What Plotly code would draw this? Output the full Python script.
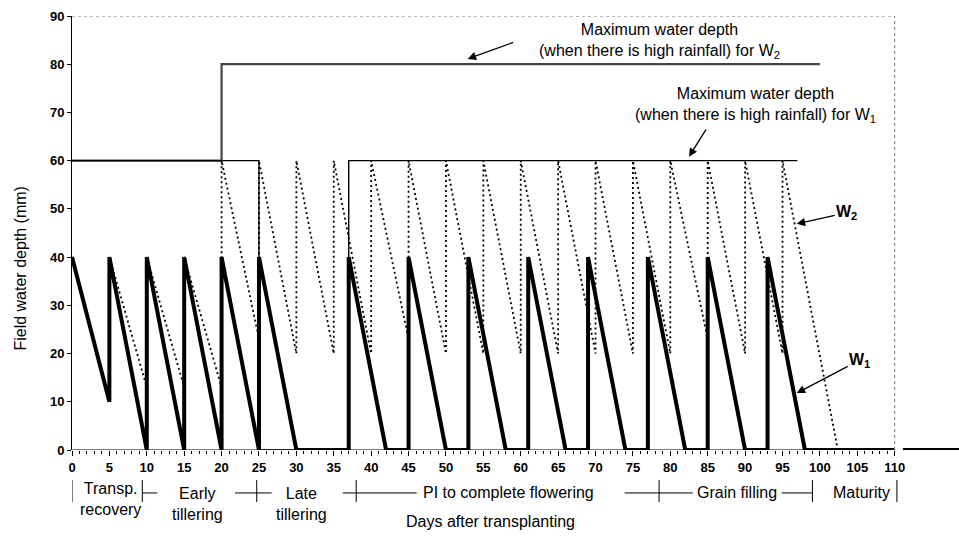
import plotly.graph_objects as go

# ---------------- data ----------------
w1_days = [0, 5, 5, 10, 10, 15, 15, 20, 20, 25, 25, 30, 37, 37, 42, 45, 45, 50, 53, 53, 58,
           61, 61, 66, 69, 69, 74, 77, 77, 82, 85, 85, 90, 93, 93, 98, 110]
w1_depth = [40, 10, 40, 0, 40, 0, 40, 0, 40, 0, 40, 0, 0, 40, 0, 0, 40, 0, 0, 40, 0,
            0, 40, 0, 0, 40, 0, 0, 40, 0, 0, 40, 0, 0, 40, 0, 0]
w1_tail_days = [111.1, 118.6]
w1_tail_depth = [0, 0]

w2_days = [0, 5, 5, 10, 10, 15, 15, 20, 20, 25, 25, 30, 30, 35, 35, 40, 40, 45, 45, 50, 50,
           55, 55, 60, 60, 65, 65, 70, 70, 75, 75, 80, 80, 85, 85, 90, 90, 95, 95, 102.4, 110]
w2_depth = [40, 10, 40, 13, 40, 13, 40, 13, 60, 23, 60, 20, 60, 20, 60, 20, 60, 23, 60, 20, 60,
            20, 60, 20, 60, 20, 60, 20, 60, 20, 60, 20, 60, 23, 60, 20, 60, 20, 60, 0, 0]

w1max_days = [0, 25, 25, 37, 37, 97]
w1max_depth = [60, 60, 0, 0, 60, 60]
w2max_days = [0, 20, 20, 100]
w2max_depth = [60, 60, 80, 80]

x_ticks = list(range(0, 111, 5))
x_minor = list(range(0, 111))
y_ticks = list(range(0, 91, 10))

stage_names = ["Transp.<br>recovery", "Early<br>tillering", "Late<br>tillering",
               "PI to complete flowering", "Grain filling", "Maturity"]
stage_centers = [5.1, 16.8, 30.7, 58.4, 88.9, 105.5]
stage_bounds = [0, 9.4, 24.7, 38.0, 78.5, 99.0, 110.3]

FONT = "Liberation Sans, Arial, sans-serif"
TS = 16

fig = go.Figure()
fig.add_trace(go.Scatter(x=w2max_days, y=w2max_depth, mode="lines",
                         line=dict(color="#444444", width=2.2), hoverinfo="skip"))
fig.add_trace(go.Scatter(x=w1max_days, y=w1max_depth, mode="lines",
                         line=dict(color="black", width=1.4), hoverinfo="skip"))
fig.add_trace(go.Scatter(x=w2_days, y=w2_depth, mode="lines",
                         line=dict(color="black", width=1.8, dash="2px,3px"), hoverinfo="skip"))
fig.add_trace(go.Scatter(x=w1_days, y=w1_depth, mode="lines",
                         line=dict(color="black", width=4), hoverinfo="skip"))
fig.add_trace(go.Scatter(x=w1_tail_days, y=w1_tail_depth, mode="lines",
                         line=dict(color="black", width=4), hoverinfo="skip", cliponaxis=False))

shapes = [
    dict(type="line", xref="x", yref="y", x0=0, x1=110, y0=0, y1=0,
         line=dict(color="black", width=1)),
    dict(type="line", xref="x", yref="y", x0=0, x1=110, y0=90, y1=90,
         line=dict(color="#777777", width=1, dash="dot")),
    dict(type="line", xref="x", yref="y", x0=110, x1=110, y0=0, y1=90,
         line=dict(color="#777777", width=1, dash="dot")),
]

yl_top, yl_bot, yl_mid = -0.069, -0.12, -0.099
for b in stage_bounds:
    shapes.append(dict(type="line", xref="x", yref="paper", x0=b, x1=b, y0=yl_top, y1=yl_bot,
                       line=dict(color="black", width=1)))
for (a, c) in [(9.4, 11.4), (21.8, 26.7), (36.2, 46.1), (73.9, 83.0), (94.9, 99.0)]:
    shapes.append(dict(type="line", xref="x", yref="paper", x0=a, x1=c, y0=yl_mid, y1=yl_mid,
                       line=dict(color="black", width=1)))

annotations = []
stage_y = [-0.112, -0.124, -0.124, -0.099, -0.099, -0.099]
for name, cx, sy in zip(stage_names, stage_centers, stage_y):
    annotations.append(dict(text=name, x=cx, y=sy, xref="x", yref="paper", showarrow=False,
                            xanchor="center", yanchor="middle",
                            font=dict(family=FONT, size=TS, color="black")))

annotations += [
    dict(text="Days after transplanting", x=56, y=-0.189, xref="x", yref="paper",
         showarrow=False, font=dict(family=FONT, size=TS, color="black")),
    dict(text="Field water depth (mm)", x=-0.07, y=0.419, xref="paper", yref="paper",
         textangle=-90, showarrow=False, font=dict(family=FONT, size=TS, color="black")),
    dict(text="Maximum water depth<br>(when there is high rainfall) for W<sub>2</sub>",
         x=78.6, y=84.9, xref="x", yref="y", showarrow=False,
         font=dict(family=FONT, size=TS, color="black")),
    dict(text="Maximum water depth<br>(when there is high rainfall) for W<sub>1</sub>",
         x=91.4, y=71.6, xref="x", yref="y", showarrow=False,
         font=dict(family=FONT, size=TS, color="black")),
    # W labels with their arrows
    dict(text="<b>W<sub>2</sub></b>", x=96.9, y=46.9, xref="x", yref="y", ax=50, ay=-11,
         showarrow=True, arrowhead=2, arrowsize=1.3, arrowwidth=1.3, arrowcolor="black",
         standoff=0, font=dict(family=FONT, size=TS, color="black")),
    dict(text="<b>W<sub>1</sub></b>", x=96.9, y=11.8, xref="x", yref="y", ax=63, ay=-33,
         showarrow=True, arrowhead=2, arrowsize=1.3, arrowwidth=1.3, arrowcolor="black",
         standoff=0, font=dict(family=FONT, size=TS, color="black")),
]
for hx, hy, ax, ay in [(52.9, 81.1, 47, -17), (82.5, 60.8, 18, -29)]:
    annotations.append(dict(text="", x=hx, y=hy, xref="x", yref="y", ax=ax, ay=ay,
                            showarrow=True, arrowhead=2, arrowsize=1.3, arrowwidth=1.3,
                            arrowcolor="black"))

fig.update_layout(
    width=959, height=543,
    margin=dict(l=72, r=0, t=16, b=93),
    paper_bgcolor="white", plot_bgcolor="white",
    showlegend=False,
    shapes=shapes, annotations=annotations,
    font=dict(family=FONT, color="black"),
    xaxis=dict(range=[0, 118.6], showgrid=False, zeroline=False, showline=False,
               tickmode="array", tickvals=x_ticks, ticks="outside", ticklen=5,
               tickcolor="black", tickwidth=1,
               tickfont=dict(family=FONT, size=13, color="black", weight="bold"),
               minor=dict(tickmode="array", tickvals=x_minor, ticks="outside", ticklen=3,
                          tickcolor="black", tickwidth=1)),
    yaxis=dict(range=[0, 90], showgrid=False, zeroline=False, showline=True,
               linecolor="black", linewidth=1, tickmode="array", tickvals=y_ticks,
               ticks="outside", ticklen=4, tickcolor="black",
               tickfont=dict(family=FONT, size=13, color="black", weight="bold")),
)

fig.write_html("out.html")
